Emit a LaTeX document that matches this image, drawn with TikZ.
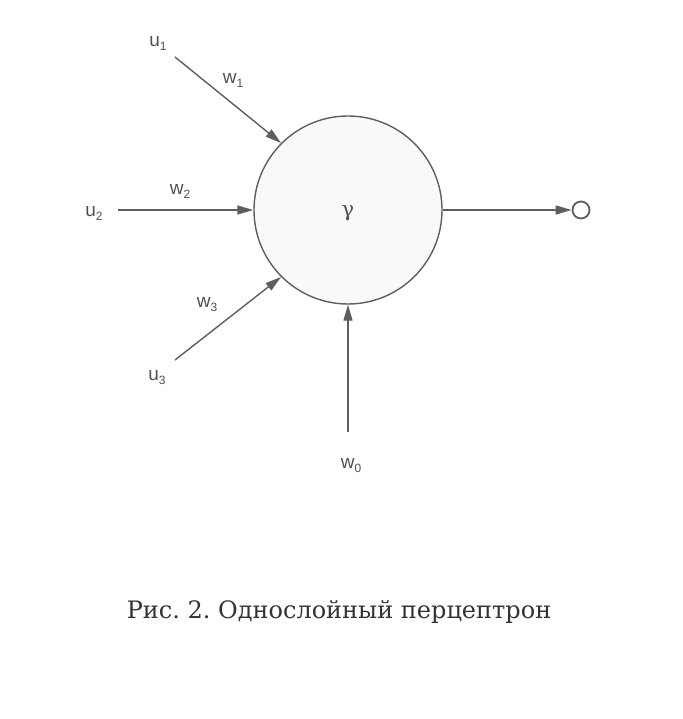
\documentclass[tikz,border=0pt]{standalone}
\usepackage{fontspec}
\setmainfont{DejaVu Serif}
\setsansfont{Liberation Sans}
\usetikzlibrary{arrows.meta,positioning}
\frenchspacing
\definecolor{linegray}{HTML}{5E5E5E}
\definecolor{labelgray}{HTML}{505050}
\definecolor{capgray}{HTML}{333333}
\definecolor{cellfill}{HTML}{F9F9F9}
\newcommand{\idx}[2]{#1\raisebox{-0.4ex}{\fontsize{12}{12}\selectfont #2}}
\tikzset{
	neuron/.style = {circle, draw=linegray, fill=cellfill, line width=1.4pt,
		minimum size=188pt, inner sep=0pt},% the summing cell
	sig/.style = {font=\sffamily\fontsize{19}{19}\selectfont, text=labelgray,
		inner sep=0pt},% u_i and w_i labels
	syn/.style = {-{Triangle[length=16pt,width=9pt]}, draw=linegray,
		line width=1.4pt},% weighted input line
	outpin/.style = {circle, draw=linegray, line width=1.8pt,
		minimum size=17pt, inner sep=0pt}% output terminal
}

\begin{document}
\begin{tikzpicture}[x=1pt,y=-1pt]
\useasboundingbox (0,0) rectangle (682,719);
\node [neuron] (cell) at (348,210) {};
\node [font=\fontsize{21}{21}\selectfont, text=labelgray] (gamma) at (348,213) {γ};
% inputs
\node [sig] (u1) at (158,43) {\idx{u}{1}};
\node [sig] (u2) at (94,213) {\idx{u}{2}};
\node [sig] (u3) at (157,378) {\idx{u}{3}};
\coordinate (in1) at (175,57);
\coordinate (in2) at (118,210);
\coordinate (in3) at (175,360);
\coordinate (in0) at (348,432);
\draw [syn] (in1) -- (cell.135);
\draw [syn] (in2) -- (cell.west);
\draw [syn] (in3) -- (cell.225);
\draw [syn] (in0) -- (cell.south);
% weights
\node [sig] (w1) at (233,80) {\idx{w}{1}};
\node [sig] (w2) at (180,191) {\idx{w}{2}};
\node [sig] (w3) at (207,305) {\idx{w}{3}};
\node [sig] (w0) at (351,466) {\idx{w}{0}};
% output
\node [outpin] (out) at (581,210) {};
\draw [syn] (cell.east) -- (out.west);
\node [font=\fontsize{24}{24}\selectfont, text=capgray] (caption) at (339,612)
	{Рис. 2. Однослойный перцептрон};
\end{tikzpicture}
\end{document}
